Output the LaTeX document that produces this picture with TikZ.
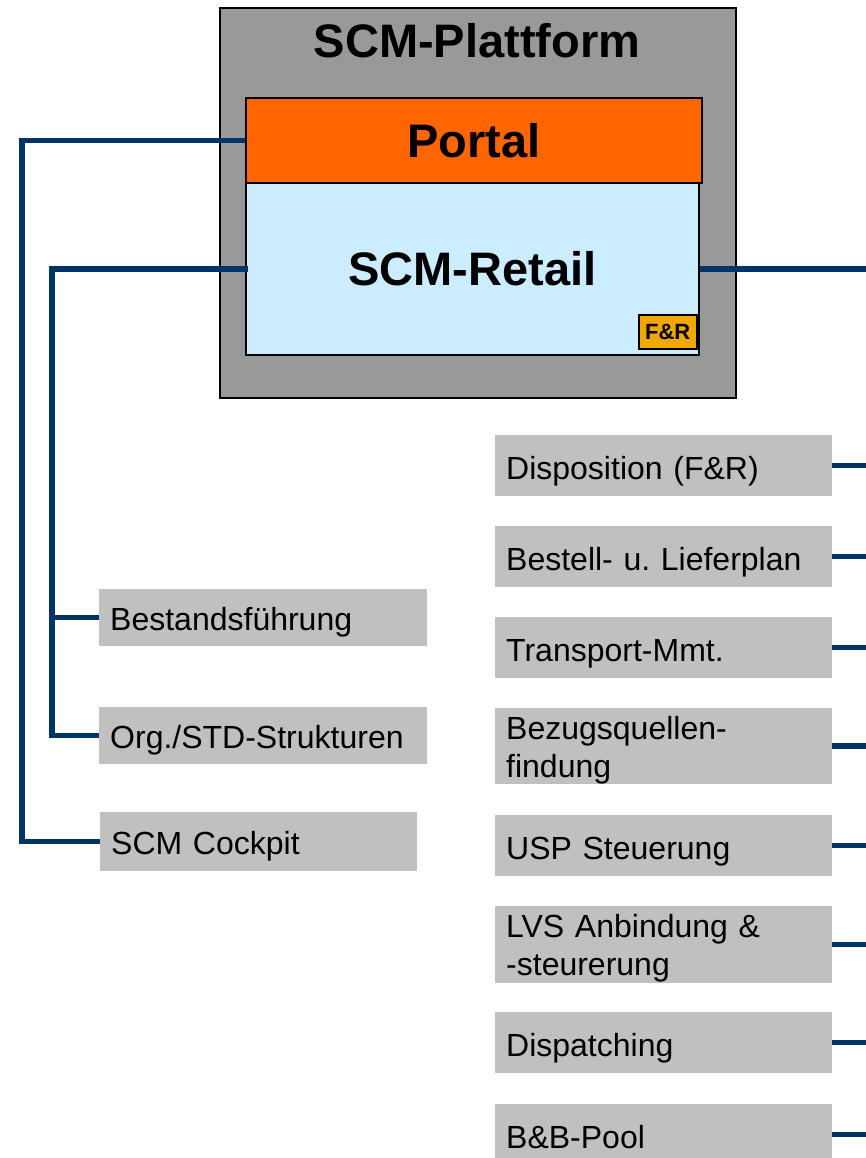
\documentclass[tikz,border=0pt]{standalone}
\usepackage{fontspec}
\setmainfont{Liberation Sans}
\definecolor{navy}{HTML}{003366}
\definecolor{platgray}{HTML}{999999}
\definecolor{portalorange}{HTML}{FF6600}
\definecolor{retailblue}{HTML}{CCECFF}
\definecolor{badge}{HTML}{F0A800}
\definecolor{boxgray}{HTML}{C0C0C0}
\begin{document}
\frenchspacing
\begin{tikzpicture}[x=1pt,y=-1pt,
  gbox/.style={fill=boxgray, inner xsep=11pt, inner ysep=0pt, align=left, anchor=north west,
    font=\fontsize{32}{38}\selectfont},
  rbox/.style={gbox, text width=315pt, minimum height=61pt, text height=30pt, text depth=3pt},
  rbox2/.style={gbox, text width=315pt, minimum height=76pt, text height=30pt, text depth=44pt},
  lbox/.style={gbox, text height=28pt, text depth=3pt},
  conn/.style={draw=navy, line width=5.5pt},
  bigtext/.style={font=\fontsize{47}{52}\selectfont\bfseries}
]
\clip (0,0) rectangle (866,1158);
\fill[white] (0,0) rectangle (866,1158);

% platform
\node[draw=black, line width=2pt, fill=platgray, minimum width=516pt, minimum height=390pt, inner sep=0pt, anchor=north west] (plat) at (219,7) {};
\node[bigtext] (plattitle) at (477,41) {SCM-Plattform};
\node[draw=black, line width=2pt, fill=retailblue, minimum width=453pt, minimum height=172pt, inner sep=0pt, anchor=north west] (retail) at (245,182) {};
\node[bigtext] (retailtext) at (retail.center) {SCM-Retail};
\node[draw=black, line width=2pt, fill=portalorange, minimum width=456pt, minimum height=85pt, inner sep=0pt, anchor=north west] (portal) at (245,97) {};
\node[bigtext] (portaltext) at (portal.center) {Portal};
\node[draw=black, line width=1.5pt, fill=badge, minimum width=58pt, minimum height=34pt, inner sep=0pt, anchor=north west, font=\fontsize{22}{24}\selectfont\bfseries] (fr) at (638,314) {F\&R};

% right column
\node[rbox] (disp) at (495,435) {Disposition (F\&R)};
\node[rbox] (bestell) at (495,526) {Bestell- u. Lieferplan};
\node[rbox] (transport) at (495,617) {Transport-Mmt.};
\node[rbox2] (bezug) at (495,708) {Bezugsquellen-\\findung};
\node[rbox] (usp) at (495,815) {USP Steuerung};
\node[rbox2, minimum height=77pt, text depth=45pt] (lvs) at (495,906) {LVS Anbindung \&\\-steurerung};
\node[rbox] (dispatch) at (495,1012) {Dispatching};
\node[rbox] (bb) at (495,1104) {B\&B-Pool};

% left column
\node[lbox, text width=306pt, minimum height=57pt] (bestand) at (99,589) {Bestandsführung};
\node[lbox, text width=306pt, minimum height=57pt] (org) at (99,707) {Org./STD-Strukturen};
\node[lbox, text width=295pt, minimum height=59pt] (cockpit) at (100,812) {SCM Cockpit};

% bus coordinates
\coordinate (busA) at (22,0);
\coordinate (busB) at (52,0);
\coordinate (busR) at (866,0);

% connectors left
\draw[conn] (portal.west) -| (busA |- cockpit.west) -- (cockpit.west);
\draw[conn] ([xshift=3pt]retail.west) -| (busB |- org.west) -- (org.west);
\draw[conn] (busB |- bestand.west) -- (bestand.west);

% connectors right
\draw[conn] (retail.east) -- (busR |- retail.east);
\foreach \n in {disp,bestell,transport,bezug,usp,lvs,dispatch,bb}{
  \draw[conn] (\n.east) -- (busR |- \n.east);
}
\end{tikzpicture}
\end{document}
